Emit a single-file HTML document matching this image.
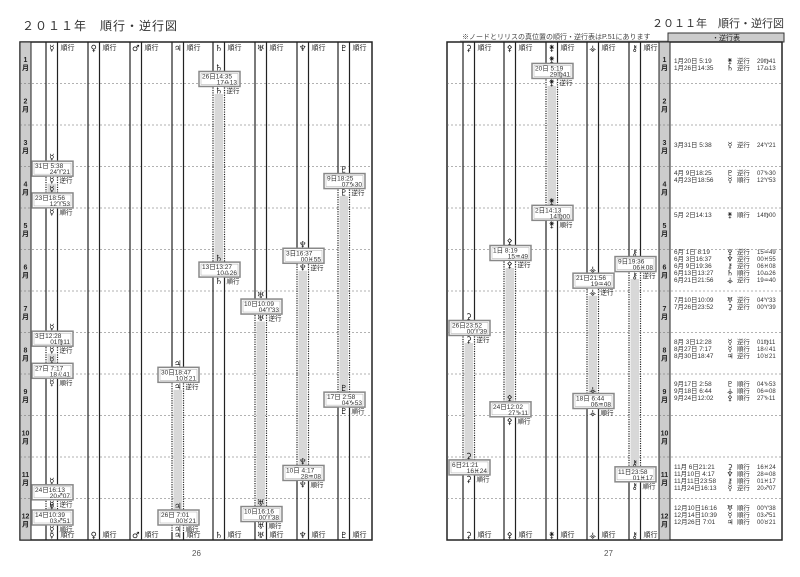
<!DOCTYPE html>
<html><head><meta charset="utf-8">
<style>
html,body{margin:0;padding:0;background:#fff;}
body{width:800px;height:572px;overflow:hidden;position:relative;font-family:"Liberation Sans","Noto Sans CJK JP",sans-serif;}
svg text{font-family:"Liberation Sans","Noto Sans CJK JP","DejaVu Sans",sans-serif;}
.sy{font-family:"DejaVu Sans",sans-serif !important;}
</style></head>
<body>
<svg id="s" width="800" height="572" xmlns="http://www.w3.org/2000/svg">
<text x="22" y="30" font-size="12" fill="#333" letter-spacing="1">２０１１年　順行・逆行図</text>
<text x="652" y="27" font-size="11" fill="#333">２０１１年　順行・逆行図</text>
<text x="462" y="39" font-size="7" fill="#444">※ノードとリリスの真位置の順行・逆行表はP.51にあります</text>
<line x1="460" y1="41" x2="668" y2="41" stroke="#555" stroke-width="0.6"/>
<rect x="668" y="33" width="116" height="9" fill="#ccc" stroke="#333" stroke-width="1"/>
<text x="712" y="40" font-size="7" fill="#222">・逆行表</text>
<text x="192" y="556" font-size="8" fill="#555">26</text>
<text x="604" y="556" font-size="8" fill="#555">27</text>
</svg>
<script>
const s=document.getElementById('s');
const NS='http://www.w3.org/2000/svg';
function el(t,a,txt){const e=document.createElementNS(NS,t);for(const k in a)e.setAttribute(k,a[k]);if(txt!=null)e.textContent=txt;s.appendChild(e);return e;}
function sym(x,y,c){return el('text',{x:x,y:y,'font-size':8.5,'text-anchor':'middle',fill:'#111','class':'sy','font-weight':'bold'},c);}
const T=42,B=540,MH=41.5;
const dim=[31,28,31,30,31,30,31,31,30,31,30,31];
function Y(m,d){return T+(m-1+(d-1)/dim[m-1])*MH;}
function page(L,R,mx,pairs,sy,events){
  el('rect',{x:L,y:T,width:R-L,height:B-T,fill:'none',stroke:'#222','stroke-width':1.5});
  el('rect',{x:mx,y:T,width:11,height:B-T,fill:'#ccc',stroke:'#222','stroke-width':1});
  for(let i=1;i<12;i++){const y=T+i*MH;
    el('line',{x1:L,y1:y,x2:R,y2:y,stroke:'#666','stroke-width':0.6,'stroke-dasharray':'2,2'});}
  for(let i=0;i<12;i++){const y=T+i*MH+MH/2;
    el('text',{x:mx+5.5,y:y-1,'font-size':7,'text-anchor':'middle','font-weight':'bold',fill:'#222'},String(i+1));
    el('text',{x:mx+5.5,y:y+7,'font-size':7,'text-anchor':'middle','font-weight':'bold',fill:'#222'},'月');}
  pairs.forEach((p,i)=>{
    const w=11.5;
    const ev=events[i]||[];
    const ranges=ev.map(e=>[Y(e[0][0],e[0][1]),Y(e[1][0],e[1][1])]);
    [p,p+w].forEach(x=>{
      let cur=T;
      ranges.forEach(r=>{el('line',{x1:x,y1:cur,x2:x,y2:r[0],stroke:'#222','stroke-width':1.2});
        el('line',{x1:x,y1:r[0],x2:x,y2:r[1],stroke:'#222','stroke-width':1.2,'stroke-dasharray':'1.2,1.2'});cur=r[1];});
      el('line',{x1:x,y1:cur,x2:x,y2:B,stroke:'#222','stroke-width':1.2});
    });
    ranges.forEach(r=>el('rect',{x:p+1.5,y:r[0],width:w-3,height:r[1]-r[0],fill:'#d8d8d8'}));
    sym(p+w/2,T+9,sy[i]);
    el('text',{x:p+w+3,y:T+8,'font-size':7,fill:'#222'},'順行');
    sym(p+w/2,B-2,sy[i]);
    el('text',{x:p+w+3,y:B-3,'font-size':7,fill:'#222'},'順行');
    ev.forEach(e=>{
      [[e[0],e[2],e[3],'逆行'],[e[1],e[4],e[5],'順行']].forEach(b=>{
        const y=Y(b[0][0],b[0][1]);
        const bx=p-14,by=Math.min(y-4,B-30);
        sym(p+w/2,by-1,sy[i]);
        el('rect',{x:bx,y:by,width:41,height:15,fill:'#fff',stroke:'#888','stroke-width':1.5});
        el('rect',{x:bx+2,y:by+2,width:37,height:11,fill:'none',stroke:'#aaa','stroke-width':0.5});
        el('text',{x:bx+3,y:by+7,'font-size':6.5,fill:'#333'},b[1]);
        el('text',{x:bx+38,y:by+13,'font-size':6.5,'text-anchor':'end',fill:'#333'},b[2]);
        el('rect',{x:p+1,y:by+15.5,width:w-2,height:7,fill:'#fff'});
        sym(p+w/2,by+22,sy[i]);
        el('text',{x:p+w+2,y:by+21.5,'font-size':6.5,fill:'#222'},b[3]);
      });
    });
  });
}
const lp=[46,88,130,172,213,255,297,338];
page(20,372,20,lp,['☿','♀','♂','♃','♄','♅','♆','♇'],[
 [[[3,31],[4,23],'31日 5:38','24♈21','23日18:56','12♈53'],[[8,3],[8,27],'3日12:28','01♍11','27日 7:17','18♌41'],[[11,24],[12,14],'24日16:13','20♐07','14日10:39','03♐51']],
 [],[],
 [[[8,30],[12,26],'30日18:47','10♉21','26日 7:01','00♉21']],
 [[[1,26],[6,13],'26日14:35','17♎13','13日13:27','10♎26']],
 [[[7,10],[12,10],'10日10:09','04♈33','10日16:16','00♈38']],
 [[[6,3],[11,10],'3日16:37','00♓55','10日 4:17','28♒08']],
 [[[4,9],[9,17],'9日18:25','07♑30','17日 2:58','04♑53']]
]);
const rp=[463,504,546,587,629];
page(447,782,659,rp,['⚳','⚴','⚵','⚶','⚷'],[
 [[[7,26],[11,6],'26日23:52','00♈39','6日21:21','16♓24']],
 [[[6,1],[9,24],'1日 8:19','15♒49','24日12:02','27♑11']],
 [[[1,20],[5,2],'20日 5:19','29♍41','2日14:13','14♍00']],
 [[[6,21],[9,18],'21日21:56','19♒40','18日 6:44','06♒08']],
 [[[6,9],[11,11],'9日19:36','06♓08','11日23:58','01♓17']]
]);
const tab=[
 [63,[['1月20日 5:19','⚵','逆行','29♍41'],['1月26日14:35','♄','逆行','17♎13']]],
 [147,[['3月31日 5:38','☿','逆行','24♈21']]],
 [175,[['4月 9日18:25','♇','逆行','07♑30'],['4月23日18:56','☿','順行','12♈53']]],
 [217,[['5月 2日14:13','⚵','順行','14♍00']]],
 [254,[['6月 1日 8:19','⚴','逆行','15♒49'],['6月 3日16:37','♆','逆行','00♓55'],['6月 9日19:36','⚷','逆行','06♓08'],['6月13日13:27','♄','順行','10♎26'],['6月21日21:56','⚶','逆行','19♒40']]],
 [302,[['7月10日10:09','♅','逆行','04♈33'],['7月26日23:52','⚳','逆行','00♈39']]],
 [344,[['8月 3日12:28','☿','逆行','01♍11'],['8月27日 7:17','☿','順行','18♌41'],['8月30日18:47','♃','逆行','10♉21']]],
 [386,[['9月17日 2:58','♇','順行','04♑53'],['9月18日 6:44','⚶','順行','06♒08'],['9月24日12:02','⚴','順行','27♑11']]],
 [469,[['11月 6日21:21','⚳','順行','16♓24'],['11月10日 4:17','♆','順行','28♒08'],['11月11日23:58','⚷','順行','01♓17'],['11月24日16:13','☿','逆行','20♐07']]],
 [510,[['12月10日16:16','♅','順行','00♈38'],['12月14日10:39','☿','順行','03♐51'],['12月26日 7:01','♃','順行','00♉21']]]
];
tab.forEach(g=>g[1].forEach((t,i)=>{const y=g[0]+i*7;
  el('text',{x:674,y:y,'font-size':6.4,fill:'#333'},t[0]);
  el('text',{x:730,y:y+0.5,'font-size':7.5,'text-anchor':'middle',fill:'#222','class':'sy','font-weight':'bold'},t[1]);
  el('text',{x:737,y:y,'font-size':6.4,fill:'#333'},t[2]);
  el('text',{x:757,y:y,'font-size':6,fill:'#333'},t[3]);
}));
</script>
</body></html>
